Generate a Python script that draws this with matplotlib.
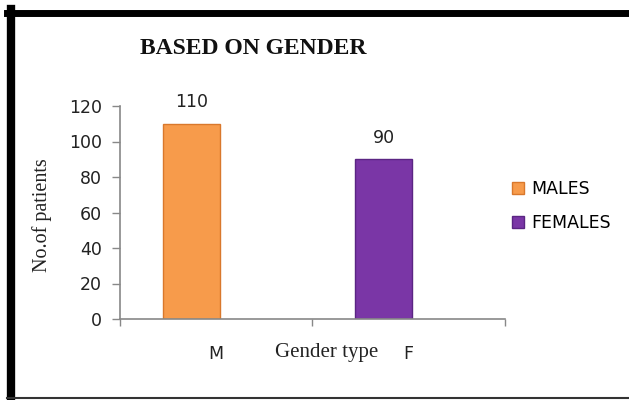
import matplotlib.pyplot as plt
from matplotlib.lines import Line2D

# Patients split by gender
categories = ['M', 'F']
series = ['MALES', 'FEMALES']
values = [110, 90]
colors = ['#F79B4B', '#7A36A6']
edges = ['#D9782C', '#5B2583']

fig = plt.figure(figsize=(6.29, 4.0), dpi=100)
ax = fig.add_axes([0.1908, 0.2025, 0.612, 0.5325])

positions = [0, 1]
bars = []
for pos, val, name, col, ec in zip(positions, values, series, colors, edges):
    b = ax.bar(pos - 0.13, val, width=0.295, color=col, edgecolor=ec,
               linewidth=1.0, label=name)
    bars.append(b)
    ax.text(pos - 0.13, val + 7, str(val), ha='center', va='bottom',
            fontsize=12.5, family='DejaVu Sans', color='#222222')

ax.set_xlim(-0.5, 1.5)
ax.set_ylim(0, 120)
ax.set_yticks(range(0, 121, 20))
ax.tick_params(axis='y', length=6, width=1, color='#888888', pad=7,
               labelsize=12.5, labelcolor='#222222')

# category labels without ticks, tick marks on the category boundaries
ax.set_xticks(positions)
ax.set_xticklabels(categories, fontsize=12.5, color='#222222')
ax.tick_params(axis='x', length=0, pad=19)
ax.set_xticks([-0.5, 0.5, 1.5], minor=True)
ax.tick_params(axis='x', which='minor', length=5, width=1, color='#888888')

for side in ['top', 'right']:
    ax.spines[side].set_visible(False)
for side in ['left', 'bottom']:
    ax.spines[side].set_color('#888888')
    ax.spines[side].set_linewidth(1.2)

ax.set_xlabel('Gender type', family='Liberation Serif', fontsize=15,
              color='#222222', va='center')
ax.xaxis.set_label_coords((327 - 120) / 385, -(352 - 319) / 213)
ax.set_ylabel('No.of patients', family='Liberation Serif', fontsize=14.5,
              color='#222222', va='center')
ax.yaxis.set_label_coords(-(120 - 42) / 385, 0.49)

fig.text(253 / 629, 1 - 48 / 400, 'BASED ON GENDER', ha='center',
         va='center', family='Liberation Serif', fontweight='bold',
         fontsize=17, color='#111111')

fig.legend(handles=[b[0] for b in bars], labels=series,
           loc='center left', bbox_to_anchor=(505 / 629, 1 - 206 / 400),
           frameon=False, fontsize=12.5, handlelength=0.7, handleheight=0.7,
           handletextpad=0.4, labelspacing=0.95, borderaxespad=0)

# frame around the chart area
fig.add_artist(Line2D([11 / 629, 11 / 629], [0, 1 - 9 / 400],
                      transform=fig.transFigure, color='black', lw=6))
fig.add_artist(Line2D([7 / 629, 1], [1 - 12.5 / 400, 1 - 12.5 / 400],
                      transform=fig.transFigure, color='black', lw=5))
fig.add_artist(Line2D([7 / 629, 1], [1 - 398 / 400, 1 - 398 / 400],
                      transform=fig.transFigure, color='#333333', lw=1.5))

fig.savefig('out.png', dpi=100)
